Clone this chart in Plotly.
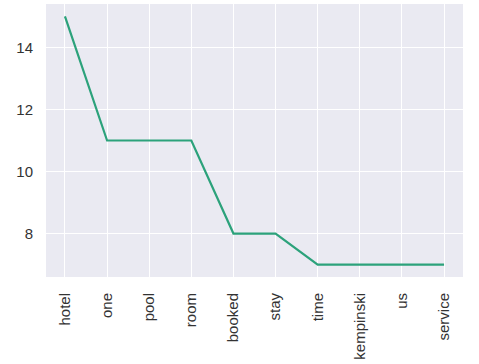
import plotly.graph_objects as go

words = ["hotel", "one", "pool", "room", "booked", "stay", "time", "kempinski", "us", "service"]
counts = [15, 11, 11, 11, 8, 8, 7, 7, 7, 7]
y_ticks = [8, 10, 12, 14]

fig = go.Figure()
fig.add_trace(go.Scatter(
    x=list(range(len(words))), y=counts, mode="lines",
    line=dict(color="#2ca27b", width=2.2),
))

fig.update_layout(
    width=479, height=364,
    margin=dict(l=46, r=16, t=4, b=87),
    paper_bgcolor="white",
    plot_bgcolor="#eaeaf2",
    showlegend=False,
    font=dict(family="Liberation Sans, Arial, sans-serif", size=15, color="#333333"),
)
fig.update_xaxes(
    range=[-0.45, 9.45],
    tickmode="array", tickvals=list(range(len(words))), ticktext=words,
    tickangle=-90, showgrid=True, gridcolor="white", gridwidth=1.3,
    zeroline=False, showline=False, ticks="", ticklabelstandoff=12,
)
fig.update_yaxes(
    range=[6.6, 15.4],
    tickmode="array", tickvals=y_ticks, ticktext=[str(v) for v in y_ticks],
    showgrid=True, gridcolor="white", gridwidth=1.3,
    zeroline=False, showline=False, ticks="", ticklabelstandoff=12,
)

fig.write_html("out.html")
